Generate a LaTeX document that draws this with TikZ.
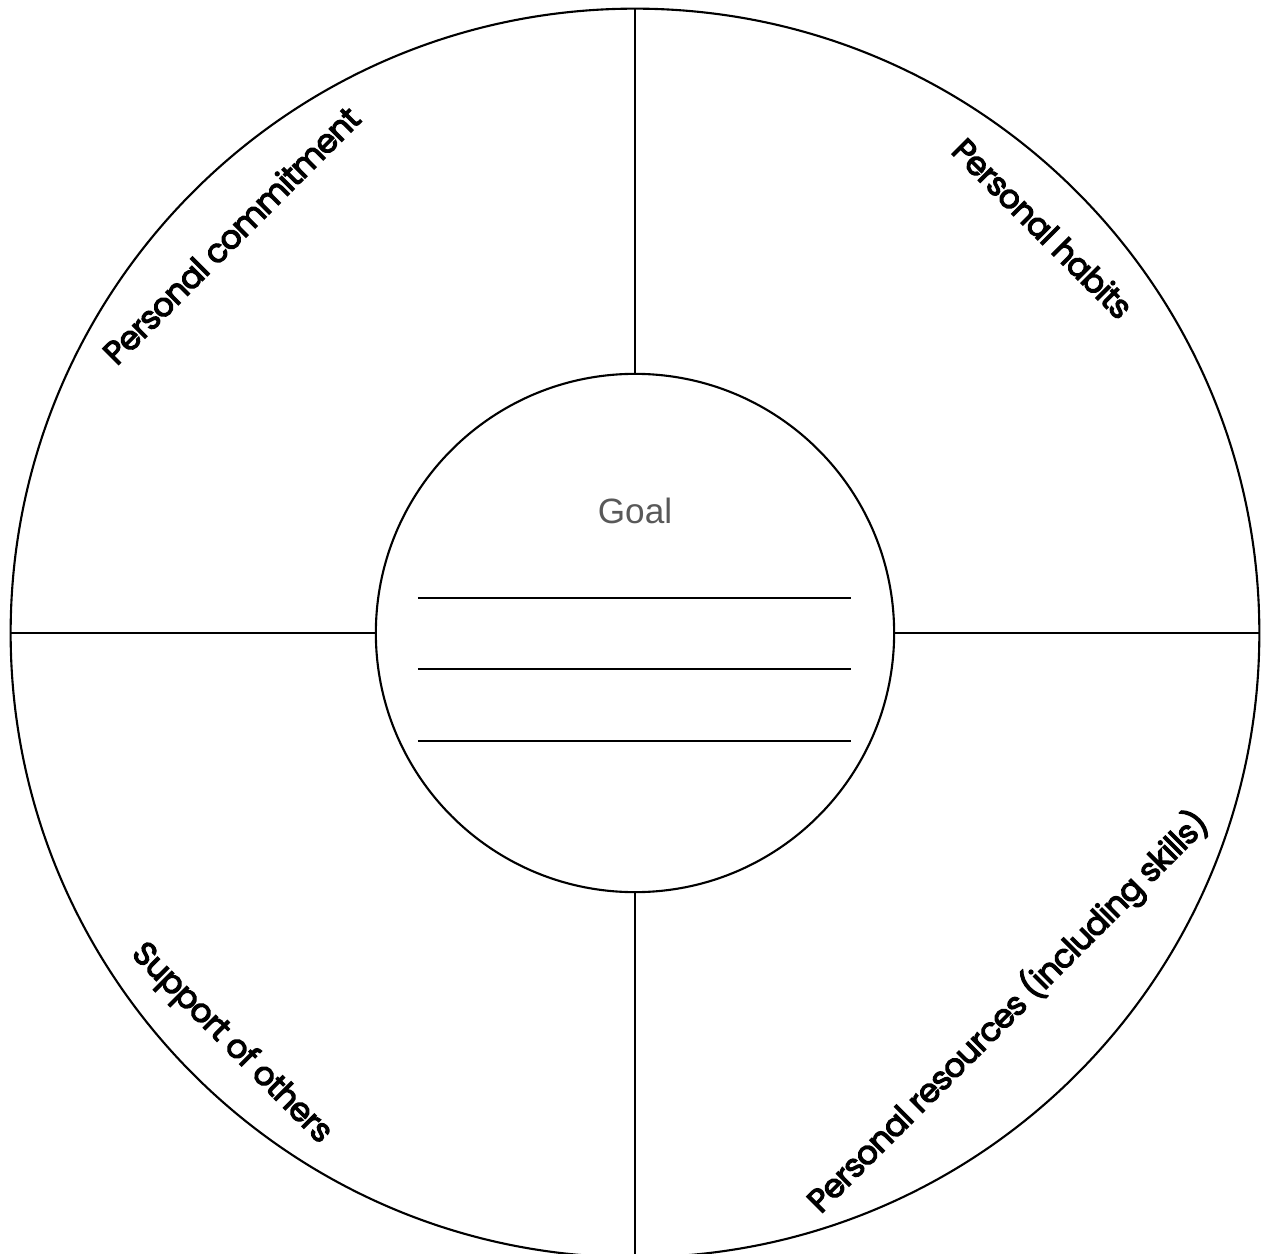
\documentclass[tikz,border=0pt]{standalone}
\usepackage{fontspec}
\usepackage{xcolor}
\usepackage{tikz}
\usetikzlibrary{positioning}
\newfontfamily\goalfont{Liberation Sans}
\newfontfamily\quadfont{Poppins}[LetterSpace=-3,FakeBold=3.5]

\begin{document}
\begin{tikzpicture}[x=0.01cm,y=-0.01cm,line width=0.6pt,
  quad/.style={font=\quadfont\fontsize{9.3}{11}\selectfont,inner sep=0pt},
  blank/.style={line width=0.6pt}]
  \useasboundingbox (0,0) rectangle (1265,1254);
  \coordinate (c) at (635,633);
  % wheel
  \draw (c) circle[radius=6.24cm];
  \draw (c) circle[radius=2.59cm];
  \coordinate (top) at (635,9);
  \coordinate (intop) at (635,374);
  \coordinate (inbot) at (635,892);
  \coordinate (bot) at (635,1257);
  \coordinate (left) at (11,633);
  \coordinate (inleft) at (376,633);
  \coordinate (inright) at (894,633);
  \coordinate (right) at (1259,633);
  \draw (top) -- (intop);
  \draw (inbot) -- (bot);
  \draw (left) -- (inleft);
  \draw (inright) -- (right);
  % goal
  \node[font=\goalfont\fontsize{10}{12}\selectfont,text=black!65] (goal) at (635,511) {Goal};
  \foreach \y in {598,669,741}
    \draw[blank] (418,\y) -- (851,\y);
  % quadrants
  \node[quad,rotate=45] (commit) at (231,235) {Personal commitment};
  \node[quad,rotate=-45] (habits) at (1043,228) {Personal habits};
  \node[quad,rotate=-45] (support) at (231,1044) {Support of others};
  \node[quad,rotate=45] (resources) at (1008,1012) {Personal resources (including skills)};
\end{tikzpicture}
\end{document}
